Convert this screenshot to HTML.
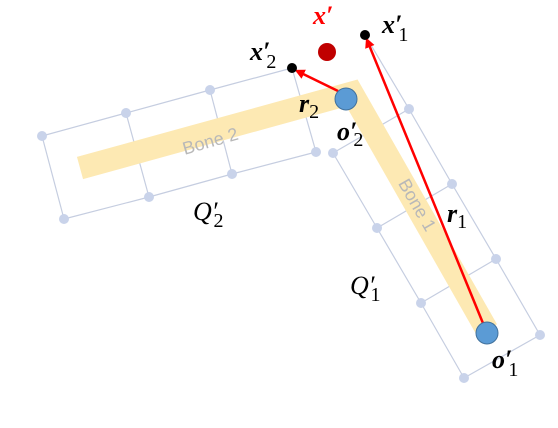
<!DOCTYPE html>
<html><head><meta charset="utf-8"><style>
html,body{margin:0;padding:0;background:#fff;}
svg{display:block;}
.m{font-family:"Liberation Serif",serif;font-style:italic;}
.b{font-weight:bold;}
.s{font-family:"Liberation Serif",serif;font-style:normal;font-weight:normal;}
</style></head><body>
<svg width="558" height="428" viewBox="0 0 558 428">
<g stroke="#c5cde0" stroke-width="1.2" fill="none">
<polyline points="42,136 126,113 210,90 292,68"/>
<polyline points="64,219 149,197 232,174 316,152"/>
<line x1="42" y1="136" x2="64" y2="219"/><line x1="126" y1="113" x2="149" y2="197"/>
<line x1="210" y1="90" x2="232" y2="174"/><line x1="292" y1="68" x2="316" y2="152"/>
</g>
<g stroke="#c5cde0" stroke-width="1.2" fill="none">
<polyline points="365,35 409,109 452,184 496,259 540,335"/>
<polyline points="333,153 377,228 421,303 464,378"/>
<line x1="333" y1="153" x2="409" y2="109"/><line x1="377" y1="228" x2="452" y2="184"/>
<line x1="421" y1="303" x2="496" y2="259"/><line x1="464" y1="378" x2="540" y2="335"/>
</g>
<polyline points="80,168 352,93 487,330" fill="none" stroke="#fde9b3" stroke-width="23" stroke-linejoin="miter" stroke-linecap="butt"/>
<text x="212" y="147" font-family="Liberation Sans,sans-serif" font-size="18" fill="#b8b8b8" text-anchor="middle" transform="rotate(-16 212 147)">Bone 2</text>
<text x="412" y="208" font-family="Liberation Sans,sans-serif" font-size="18" fill="#b8b8b8" text-anchor="middle" transform="rotate(60 412 208)">Bone 1</text>
<g fill="#c9d3ea">
<circle cx="42" cy="136" r="5"/><circle cx="126" cy="113" r="5"/><circle cx="210" cy="90" r="5"/>
<circle cx="64" cy="219" r="5"/><circle cx="149" cy="197" r="5"/><circle cx="232" cy="174" r="5"/><circle cx="316" cy="152" r="5"/>
<circle cx="409" cy="109" r="5"/><circle cx="452" cy="184" r="5"/><circle cx="496" cy="259" r="5"/><circle cx="540" cy="335" r="5"/>
<circle cx="333" cy="153" r="5"/><circle cx="377" cy="228" r="5"/><circle cx="421" cy="303" r="5"/><circle cx="464" cy="378" r="5"/>
</g>
<defs><marker id="ah" markerWidth="4" markerHeight="4" refX="3" refY="2" orient="auto"><path d="M0,0 L4,2 L0,4 Z" fill="#f00"/></marker></defs>
<line x1="487" y1="333" x2="367" y2="40" stroke="#f00" stroke-width="2.5" marker-end="url(#ah)"/>
<line x1="338" y1="91" x2="297" y2="71" stroke="#f00" stroke-width="2.5" marker-end="url(#ah)"/>
<circle cx="346" cy="99" r="11" fill="#5b9bd5" stroke="#41719c" stroke-width="1"/>
<circle cx="487" cy="333" r="11" fill="#5b9bd5" stroke="#41719c" stroke-width="1"/>
<circle cx="327" cy="52" r="9" fill="#c00000"/>
<circle cx="365" cy="35" r="5" fill="#000"/>
<circle cx="292" cy="68" r="5" fill="#000"/>
<text x="313" y="24" class="m b" font-size="26" fill="#f00">x′</text>
<text x="382" y="33" class="m b" font-size="26">x′<tspan class="s" font-size="20" dx="-4" dy="8">1</tspan></text>
<text x="250" y="60" class="m b" font-size="26">x′<tspan class="s" font-size="20" dx="-4" dy="8">2</tspan></text>
<text x="299" y="112" class="m b" font-size="26">r<tspan class="s" font-size="20" dy="6">2</tspan></text>
<text x="337" y="140" class="m b" font-size="26">o′<tspan class="s" font-size="20" dx="-4" dy="6">2</tspan></text>
<text x="447" y="222" class="m b" font-size="26">r<tspan class="s" font-size="20" dy="6">1</tspan></text>
<text x="492" y="368" class="m b" font-size="26">o′<tspan class="s" font-size="20" dx="-4" dy="8">1</tspan></text>
<text x="350" y="294" class="m" font-size="26">Q′<tspan class="s" font-size="20" dx="-4" dy="7">1</tspan></text>
<text x="193" y="220" class="m" font-size="26">Q′<tspan class="s" font-size="20" dx="-4" dy="7">2</tspan></text>
</svg>
</body></html>
